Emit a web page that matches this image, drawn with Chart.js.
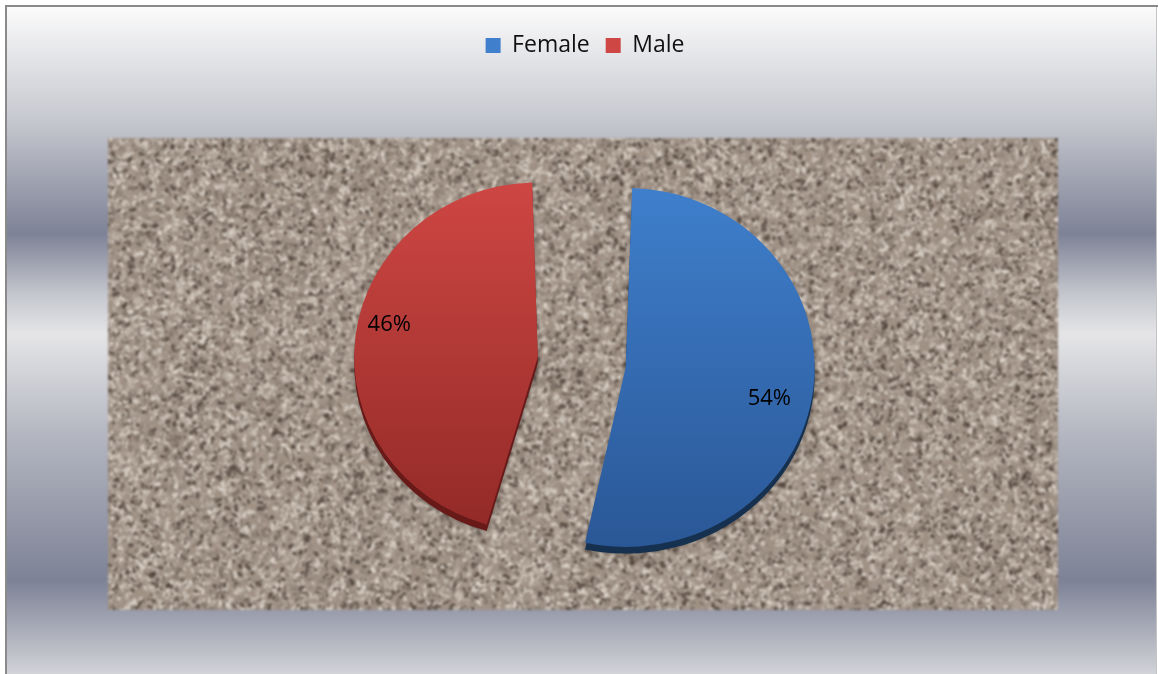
<!DOCTYPE html>
<html>
<head>
<meta charset="utf-8">
<script src="https://cdn.jsdelivr.net/npm/chart.js@4.4.1/dist/chart.umd.min.js"></script>
<style>
    html, body { margin: 0; padding: 0; background: #ffffff; }
    #wrap { position: relative; width: 1158px; height: 674px; overflow: hidden; }
</style>
</head>
<body>
<div id="wrap"><canvas id="pieChart" width="1158" height="674"></canvas></div>
<script>
// chart data
let genderLabels = ["Female", "Male"];
let genderShares = [54, 46];
let figureTitle = "Figure 4.1: Composition of Respondents by Gender";

// slice styles
let sliceTop = ['#3f7fcc', '#cf4744'];
let sliceBottom = ['#2a5796', '#912926'];
let rimColors = ['#16304f', '#681a19'];
let sliceOffsets = [164, 190];
let tiltY = 0.95;

// seeded noise for the stone texture
function mulberry32(a) {
    return function () {
        a |= 0; a = a + 0x6D2B79F5 | 0;
        let t = Math.imul(a ^ a >>> 15, 1 | a);
        t = t + Math.imul(t ^ t >>> 7, 61 | t) ^ t;
        return ((t ^ t >>> 14) >>> 0) / 4294967296;
    };
}

function buildTexture(w, h) {
    const c = document.createElement('canvas');
    c.width = w; c.height = h;
    const g = c.getContext('2d');
    const rnd = mulberry32(20240611);
    g.fillStyle = '#a09185';
    g.fillRect(0, 0, w, h);
    const palette = ['rgba(78,66,58,0.75)', 'rgba(118,105,95,0.7)', 'rgba(206,196,186,0.75)', 'rgba(226,218,208,0.7)', 'rgba(172,160,150,0.7)', 'rgba(140,128,118,0.7)', 'rgba(188,176,165,0.7)'];
    const count = Math.floor(w * h / 11);
    for (let i = 0; i < count; i++) {
        g.fillStyle = palette[Math.floor(rnd() * palette.length)];
        g.beginPath();
        g.ellipse(rnd() * w, rnd() * h, 1.4 + rnd() * 2.2, 0.9 + rnd() * 1.3, rnd() * Math.PI, 0, Math.PI * 2);
        g.fill();
    }
    return c;
}

const stone = buildTexture(950, 472);

const backdrop = {
    id: 'backdrop',
    beforeDraw(chart) {
        const ctx = chart.ctx;
        ctx.save();
        // cut-off figure caption above the frame
        ctx.fillStyle = '#000';
        ctx.font = 'bold 20px "Liberation Serif"';
        ctx.textBaseline = 'alphabetic';
        ctx.textAlign = 'left';
        ctx.fillText(figureTitle, -6, -6);

        const bg = ctx.createLinearGradient(0, 7, 0, 674);
        bg.addColorStop(0.00, '#fbfbfb');
        bg.addColorStop(0.17, '#c6c8cf');
        bg.addColorStop(0.34, '#7d8296');
        bg.addColorStop(0.43, '#c4c6ce');
        bg.addColorStop(0.49, '#e5e5e7');
        bg.addColorStop(0.64, '#b4b7c1');
        bg.addColorStop(0.86, '#7d8296');
        bg.addColorStop(1.00, '#d2d3d8');
        ctx.fillStyle = bg;
        ctx.fillRect(7, 7, 1150, 667);

        ctx.fillStyle = '#8a8a8a';
        ctx.fillRect(5, 5, 2, 669);
        ctx.fillRect(5, 5, 1153, 2);
        ctx.fillStyle = '#c4c4c4';
        ctx.fillRect(1156, 7, 1, 667);

        ctx.filter = 'blur(0.9px)';
        ctx.drawImage(stone, 108, 138);
        ctx.filter = 'none';
        ctx.restore();
    }
};

// slight perspective squash plus the dark 3D rim under each slice
const tilt = {
    id: 'tilt',
    beforeDatasetsDraw(chart) {
        const ctx = chart.ctx;
        const area = chart.chartArea;
        const cy = (area.top + area.bottom) / 2;
        ctx.save();
        ctx.translate(0, cy);
        ctx.scale(1, tiltY);
        ctx.translate(0, -cy);
        const arcs = chart.getDatasetMeta(0).data;
        arcs.forEach(function (arc, i) {
            const ghost = Object.create(arc);
            ghost.options = Object.assign({}, arc.options, {backgroundColor: rimColors[i], borderWidth: 0});
            ctx.save();
            ctx.shadowColor = 'rgba(0,0,0,0.35)';
            ctx.shadowBlur = 4;
            ctx.translate(0, 7);
            arc.draw.call(ghost, ctx);
            ctx.restore();
        });
    },
    afterDatasetsDraw(chart) {
        chart.ctx.restore();
    }
};

const percentLabels = {
    id: 'percentLabels',
    afterDatasetsDraw(chart) {
        const ctx = chart.ctx;
        const area = chart.chartArea;
        const cy = (area.top + area.bottom) / 2;
        const arcs = chart.getDatasetMeta(0).data;
        ctx.save();
        ctx.fillStyle = '#000';
        ctx.font = '22px "Open Sans"';
        ctx.textAlign = 'center';
        ctx.textBaseline = 'middle';
        arcs.forEach(function (arc, i) {
            const p = arc.getProps(['x', 'y', 'startAngle', 'endAngle', 'outerRadius'], true);
            const mid = (p.startAngle + p.endAngle) / 2;
            const shift = sliceOffsets[i] / 4;
            const vx = p.x + Math.cos(mid) * shift;
            const vy = p.y + Math.sin(mid) * shift;
            const r = (p.outerRadius + shift) * 0.78;
            const a = mid + 0.1;
            const lx = vx + Math.cos(a) * r;
            const ly = cy + (vy + Math.sin(a) * r - cy) * tiltY;
            ctx.fillText(genderShares[i] + '%', lx, ly);
        });
        ctx.restore();
    }
};

const chart = new Chart(document.getElementById('pieChart'), {
    type: 'pie',
    data: {
        labels: genderLabels,
        datasets: [{
            data: genderShares,
            backgroundColor: function (context) {
                const i = context.dataIndex;
                const area = context.chart.chartArea;
                if (!area) return sliceTop[i];
                const cy = (area.top + area.bottom) / 2;
                const g = context.chart.ctx.createLinearGradient(0, cy - 190, 0, cy + 190);
                g.addColorStop(0, sliceTop[i]);
                g.addColorStop(1, sliceBottom[i]);
                return g;
            },
            borderWidth: 0,
            offset: sliceOffsets,
            hoverOffset: 0,
        }]
    },
    options: {
        responsive: false,
        animation: false,
        radius: 148,
        layout: { padding: { top: 18, bottom: 16, left: 12, right: 0 } },
        plugins: {
            legend: {
                position: 'top',
                labels: {
                    color: '#111',
                    font: { family: '"Open Sans"', size: 23 },
                    boxWidth: 15,
                    boxHeight: 15,
                    padding: 16,
                }
            },
            tooltip: { enabled: false }
        }
    },
    plugins: [backdrop, tilt, percentLabels]
});
</script>
</body>
</html>
